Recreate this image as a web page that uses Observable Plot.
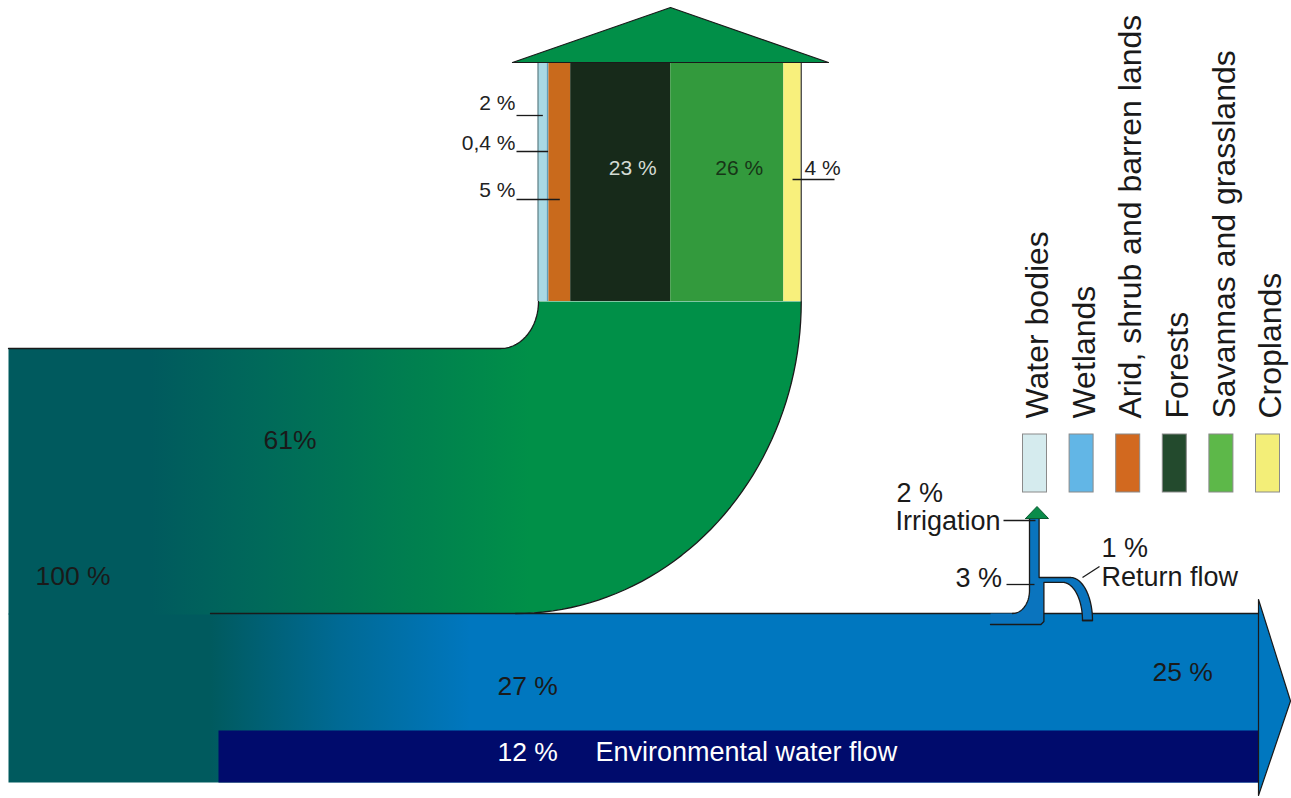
<!DOCTYPE html>
<html><head><meta charset="utf-8">
<script src="https://cdn.jsdelivr.net/npm/d3@7"></script>
<script src="https://cdn.jsdelivr.net/npm/@observablehq/plot@0.6"></script>
<style>html,body{margin:0;padding:0;background:#fff;} #chart svg{display:block}</style>
</head><body><div id="chart"></div>
<script>
// ---------- DATA ----------
const landCovers = ["Water bodies", "Wetlands", "Arid, shrub and barren lands", "Forests", "Savannas and grasslands", "Croplands"];
const landShares = [2, 0.4, 5, 23, 26, 4];
const landLabels = ["2 %", "0,4 %", "5 %", "23 %", "26 %", "4 %"];
const houseColors = ["#a9d9e4", "#5f9fb8", "#c96a1c", "#172a1a", "#339a3d", "#f8f07c"];
const legendColors = ["#d5ebee", "#62b6e6", "#d2691f", "#234a2d", "#5db849", "#f3ee78"];

const flowNames = ["Precipitation", "Evapotranspiration", "Runoff", "Environmental water flow", "Outflow"];
const flowValues = [100, 61, 27, 12, 25];
const flowLabels = ["100 %", "61%", "27 %", "12 %", "25 %"];

const irrigationNames = ["Withdrawal", "Irrigation", "Return flow"];
const irrigationValues = [3, 2, 1];
const irrigationLabels = ["3 %", "2 %", "1 %"];

// ---------- LAYOUT ----------
const W = 1291, H = 798;
const K = 4.35;      // px per percent, main flows
const KS = 4.8;      // px per percent, small irrigation flows
const streamLeft = 8, streamRight = 1258, streamBottom = 782;
const houseLeft = 538, houseTop = 62, houseBottom = 301;
const bendLeft = 515, innerRx = 38;
const runLineStart = 210, envLeft = 218;
const stemX = 1029, stemTop = 517, branchY = 577;

const [total, evap, runoff, env, outflow] = flowValues;
const yEnvTop = Math.round(streamBottom - env * K);
const yRunTop = Math.round(yEnvTop - runoff * K);
const yEvapTop = Math.round(yRunTop - evap * K);

let acc = houseLeft;
const cols = landCovers.map((name, i) => {
  const x1 = acc; acc += landShares[i] * K;
  return {name, x1, x2: acc, xc: (x1 + acc) / 2, color: houseColors[i], label: landLabels[i]};
});
const houseRight = acc;

function arc(cx, cy, rx, ry, a0, a1, n = 48) {
  const pts = [];
  for (let i = 0; i <= n; i++) { const a = a0 + (a1 - a0) * i / n; pts.push([cx + rx * Math.cos(a), cy + ry * Math.sin(a)]); }
  return pts;
}
const P = Math.PI / 2;
const innerRy = yEvapTop - houseBottom;
const innerArc = arc(houseLeft - innerRx, houseBottom, innerRx, innerRy, P, 0);
const outerArc = arc(bendLeft, houseBottom, houseRight - bendLeft, yRunTop - houseBottom, 0, P);

const greenPoly = [[streamLeft, yEvapTop], ...innerArc, [houseRight, houseBottom], ...outerArc, [runLineStart, yRunTop], [runLineStart, yRunTop + 1], [streamLeft, yRunTop + 1]];
const runPoly = [[streamLeft, yRunTop], [streamRight, yRunTop], [streamRight, streamBottom], [streamLeft, streamBottom]];
const envPoly = [[envLeft, yEnvTop], [streamRight + 1, yEnvTop], [streamRight + 1, streamBottom], [envLeft, streamBottom]];
const arrowPoly = [[streamRight, yRunTop - 14], [1290, (yRunTop + streamBottom) / 2 + 3], [streamRight, streamBottom + 13]];
const roofPoly = [[512, houseTop], [828, houseTop], [(512 + 828) / 2, 7]];

const [wd, cons, ret] = irrigationValues;
const upR = stemX + cons * KS, lowR = stemX + wd * KS;
const brB = branchY + ret * KS;
const outerBranch = arc(1070, 620, 22, 620 - branchY, -P, 0);
const innerBranch = arc(1062, 620, 20, 620 - brB, 0, -P);
const flare = arc(1012, 590, stemX - 1012, yRunTop - 590, P, 0);
const irrPoly = [
  [stemX, stemTop], [upR, stemTop], [upR, branchY],
  ...outerBranch, ...innerBranch,
  [lowR, brB], [lowR, 624], [990, 624], [990, yRunTop], ...flare
];
const irrEdgeLeft = [[stemX, stemTop], ...flare.slice().reverse()];
const irrEdgeRight = [[990, 624], [lowR - 3, 624], [lowR, 621], [lowR, brB], ...innerBranch.slice().reverse(), ...outerBranch.slice().reverse(), [upR, branchY], [upR, stemTop]];
const irrBottom = [[1082, 620], [1092, 620]];
const irrArrow = [[stemX - 4, stemTop + 1], [stemX + 19, stemTop + 1], [stemX + 7.5, 506]];

// label layout
const flowLabelPos = [[35, 576], [263, 440], [497, 686], [497, 752], [1152, 672]];
const flowLabelFill = ["#1a1a1a", "#1a1a1a", "#1a1a1a", "#ffffff", "#1a1a1a"];
const sideTextY = [103, 143, 190], sideLineY = [115, 151, 199];

const flowText = flowLabels.map((t, i) => ({t, x: flowLabelPos[i][0], y: flowLabelPos[i][1], fill: flowLabelFill[i]}));
const sideText = cols.slice(0, 3).map((c, i) => ({t: c.label, x: 515, y: sideTextY[i], ly: sideLineY[i], xc: c.xc}));
const irrText = [
  {t: irrigationLabels[1], x: 896, y: 493},
  {t: irrigationNames[1], x: 895, y: 521},
  {t: irrigationLabels[0], x: 955, y: 578},
  {t: irrigationLabels[2], x: 1101, y: 548},
  {t: irrigationNames[2], x: 1101, y: 577}
];
const irrLeaders = [
  {x1: 1003, y1: 520, x2: stemX + 6, y2: 520},
  {x1: 1006, y1: 584, x2: stemX + 5, y2: 584},
  {x1: 1082, y1: 577, x2: 1099, y2: 566}
];
const legend = landCovers.map((name, i) => ({name, color: legendColors[i], x: 1034.5 + i * 46.6}));

const xy = {x: d => d[0], y: d => d[1]};
const poly = (pts, o) => Plot.line([...pts, pts[0]], {...xy, ...o});
const path = (pts, o) => Plot.line(pts, {...xy, ...o});
const ink = "#1a1a1a";
const teal = "#005a5e";

const chart = Plot.plot({
  width: W, height: H, margin: 0,
  x: {domain: [0, W], range: [0, W], axis: null},
  y: {domain: [0, H], range: [0, H], axis: null},
  color: {type: "identity"},
  style: {fontFamily: "'Liberation Sans', Arial, sans-serif", background: "#fff", overflow: "visible"},
  marks: [
    poly(runPoly, {fill: "url(#gBlue)", stroke: "none"}),
    poly(envPoly, {fill: "#000b6c", stroke: "none"}),
    poly(arrowPoly, {fill: "#0077bf", stroke: ink, strokeWidth: 1.2}),
    poly(greenPoly, {fill: "url(#gGreen)", stroke: "none"}),
    path([[streamLeft, yEvapTop], ...innerArc], {stroke: ink, strokeWidth: 1.3}),
    path(outerArc, {stroke: ink, strokeWidth: 1.3}),
    path([[runLineStart, yRunTop], [streamRight, yRunTop]], {stroke: ink, strokeWidth: 1.3}),
    // house
    Plot.rect(cols, {x1: "x1", x2: "x2", y1: houseTop, y2: houseBottom, fill: "color"}),
    Plot.ruleX([houseLeft - 0.5], {y1: houseTop, y2: houseBottom, stroke: "#5d7d84", strokeWidth: 1.2}),
    Plot.ruleX([houseRight], {y1: houseTop, y2: houseBottom, stroke: "#333", strokeWidth: 1.2}),
    poly(roofPoly, {fill: "#018f48", stroke: ink, strokeWidth: 1.2}),
    // irrigation
    poly(irrPoly, {fill: "#0a74be", stroke: "none"}),
    path(irrEdgeLeft, {stroke: ink, strokeWidth: 1.3}),
    path(irrEdgeRight, {stroke: ink, strokeWidth: 1.3}),
    path(irrBottom, {stroke: ink, strokeWidth: 1.3}),
    poly(irrArrow, {fill: "#0a8c4a", stroke: "#0a5a30", strokeWidth: 1}),
    // labels
    Plot.text(flowText, {x: "x", y: "y", text: "t", fill: "fill", fontSize: 26.5, textAnchor: "start"}),
    Plot.text([flowNames[3]], {x: 595, y: 752, text: d => d, fill: "#fff", fontSize: 27, textAnchor: "start"}),
    Plot.text(sideText, {x: "x", y: "y", text: "t", fontSize: 21, textAnchor: "end", fill: "#222"}),
    Plot.link(sideText, {x1: 516, y1: "ly", x2: "xc", y2: "ly", stroke: ink, strokeWidth: 1.3}),
    Plot.text([cols[3], cols[4]], {x: d => d.xc + 12, y: 168, text: "label", fontSize: 21, fill: (d, i) => i === 0 ? "#d3dbd3" : "#173517"}),
    Plot.text([cols[5]], {x: 804, y: 168, text: "label", fontSize: 21, textAnchor: "start", fill: "#222"}),
    Plot.link([cols[5]], {x1: "xc", y1: 179, x2: 834, y2: 179, stroke: ink, strokeWidth: 1.3}),
    Plot.text(irrText, {x: "x", y: "y", text: "t", fontSize: 27, textAnchor: "start", fill: "#1a1a1a"}),
    Plot.link(irrLeaders, {x1: "x1", y1: "y1", x2: "x2", y2: "y2", stroke: ink, strokeWidth: 1.3}),
    // legend
    Plot.rect(legend, {x1: d => d.x - 12, x2: d => d.x + 12, y1: 434, y2: 492, fill: "color", stroke: "#8a8a8a", strokeWidth: 1}),
    Plot.text(legend, {x: d => d.x + 3, y: 418, text: "name", rotate: -90, textAnchor: "start", fontSize: 32, fill: "#1a1a1a"})
  ]
});

// gradients
const svg = d3.select(chart);
const defs = svg.insert("defs", ":first-child");
function grad(id, x1, x2, stops) {
  const g = defs.append("linearGradient").attr("id", id).attr("gradientUnits", "userSpaceOnUse")
    .attr("x1", x1).attr("x2", x2).attr("y1", 0).attr("y2", 0);
  stops.forEach(([o, c]) => g.append("stop").attr("offset", o).attr("stop-color", c));
}
grad("gGreen", 150, 530, [[0, teal], [0.3, "#006a5a"], [0.7, "#00804f"], [1, "#009048"]]);
grad("gBlue", 210, 470, [[0, teal], [0.5, "#006a95"], [1, "#0077bf"]]);

document.getElementById("chart").appendChild(chart);
</script></body></html>
